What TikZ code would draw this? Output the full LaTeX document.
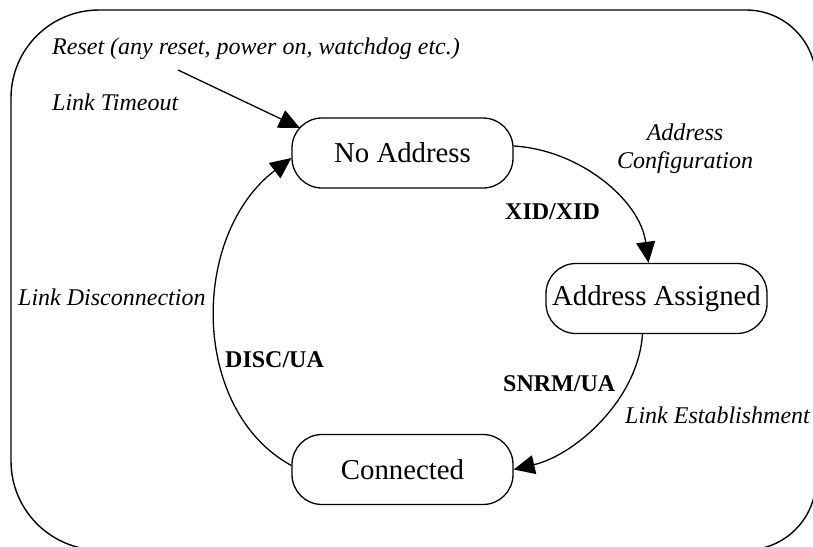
\documentclass[tikz,border=0pt]{standalone}
\usepackage{fontspec}
\setmainfont{Liberation Serif}
\usetikzlibrary{arrows.meta}
\tikzset{
  statebox/.style={draw, line width=1.3pt, rounded corners=30pt, minimum width=221pt, minimum height=70pt, inner sep=0pt, font=\fontsize{28.8}{34}\selectfont},
  evlabel/.style={inner sep=0pt, anchor=base west, font=\fontsize{24}{28}\selectfont\itshape},
  actlabel/.style={inner sep=0pt, anchor=base west, font=\fontsize{24}{28}\selectfont\bfseries},
  conn/.style={line width=1.3pt, -{Triangle[length=21pt,width=19pt]}},
  frame/.style={line width=1.4pt}
}
\begin{document}
\begin{tikzpicture}[x=1pt,y=-1pt]
\useasboundingbox (0,0) rectangle (813,546);
\clip (0,0) rectangle (813,546);
% outer frame
\draw[frame] (11,461) -- (11,98) arc[start angle=180,end angle=270,radius=88]
  -- (746,10) arc[start angle=270,end angle=360,radius=70]
  -- (816,480) arc[start angle=0,end angle=90,radius=70]
  -- (100,550) arc[start angle=90,end angle=180,radius=89] -- cycle;
% states
\node[statebox] (na) at (402.5,153) {No Address};
\node[statebox] (aa) at (656.5,298.5) {Address Assigned};
\node[statebox] (co) at (402.5,469.5) {Connected};
% labels
\node[evlabel] (lreset) at (52,54) {Reset (any reset, power on, watchdog etc.)};
\node[evlabel] (ltime) at (52,110) {Link Timeout};
\node[evlabel, anchor=base] (lac1) at (685,140) {Address};
\node[evlabel, anchor=base] (lac2) at (685,168) {Configuration};
\node[actlabel] (lxid) at (505,219) {XID/XID};
\node[evlabel] (ldisc) at (18,305) {Link Disconnection};
\node[actlabel] (ldua) at (225,367) {DISC/UA};
\node[actlabel] (lsnrm) at (503,391) {SNRM/UA};
\node[evlabel] (lest) at (625,423) {Link Establishment};
% connectors
\coordinate (rs) at (178,70);
\coordinate (rt) at (300,128);
\draw[conn] (rs) -- (rt);
\draw[conn] ([yshift=7pt]na.east) .. controls (580,150) and (640,200) .. ([xshift=-8pt]aa.north);
\draw[conn] ([xshift=-14pt]aa.south) .. controls (638,400) and (575,455) .. (co.east);
\draw[conn] ([yshift=4pt]co.west) .. controls (190,410) and (190,235) .. ([yshift=-5pt]na.west);
\end{tikzpicture}
\end{document}
